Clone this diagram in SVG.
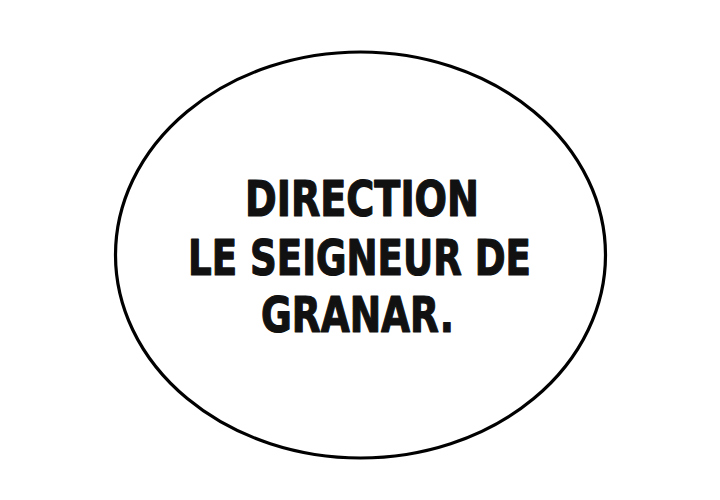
<svg xmlns="http://www.w3.org/2000/svg" width="720" height="500" viewBox="0 0 720 500">
<style>
.t{font-family:"DejaVu Sans Condensed","DejaVu Sans","Liberation Sans",sans-serif;font-weight:bold;font-size:50px;fill:#111;stroke:#111;stroke-width:1.2;stroke-linejoin:round;text-anchor:middle}
</style>
<rect width="720" height="500" fill="#fff"/>
<g id="bubble">
<ellipse cx="360.5" cy="255" rx="245" ry="203" fill="#fff" stroke="#000" stroke-width="3.2"/>
<text class="t" x="362" y="216" textLength="234" lengthAdjust="spacingAndGlyphs">DIRECTION</text>
<text class="t" x="359.5" y="275" textLength="343" lengthAdjust="spacingAndGlyphs">LE SEIGNEUR DE</text>
<text class="t" x="357.5" y="332" textLength="193" lengthAdjust="spacingAndGlyphs">GRANAR.</text>
</g>
</svg>
